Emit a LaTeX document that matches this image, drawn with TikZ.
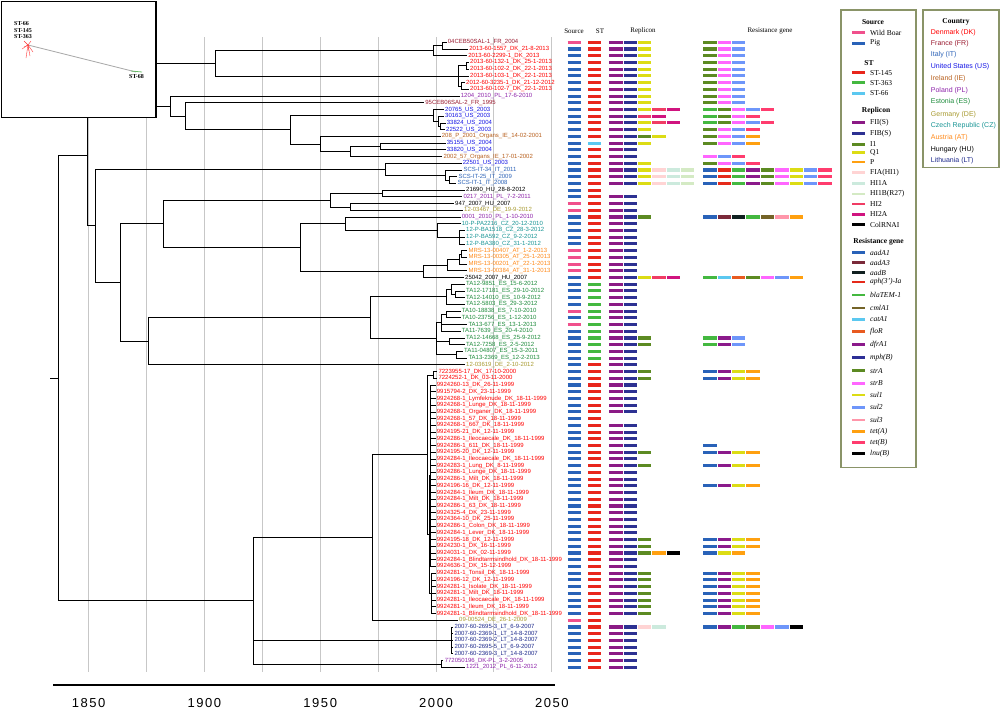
\documentclass[tikz,border=0pt]{standalone}
\usepackage{fontspec}
\setmainfont{Liberation Serif}
\setsansfont{Liberation Sans}
\usetikzlibrary{calc}
% country colours
\definecolor{cDK}{HTML}{FF0000}\definecolor{cFR}{HTML}{9B1C31}\definecolor{cIT}{HTML}{2E64B8}
\definecolor{cUS}{HTML}{1414E6}\definecolor{cIE}{HTML}{B8601E}\definecolor{cPL}{HTML}{8E24AA}
\definecolor{cES}{HTML}{1E8C3C}\definecolor{cDE}{HTML}{A89A30}\definecolor{cCZ}{HTML}{1A9696}
\definecolor{cAT}{HTML}{FF8A1A}\definecolor{cHU}{HTML}{000000}\definecolor{cLT}{HTML}{1E2A8C}
% source / ST
\definecolor{sW}{HTML}{F0508C}\definecolor{sP}{HTML}{2962B8}
\definecolor{s145}{HTML}{E8261C}\definecolor{s363}{HTML}{44B840}\definecolor{s66}{HTML}{5BC8F0}
% replicons
\definecolor{rFII}{HTML}{8B1A85}\definecolor{rFIB}{HTML}{2D3192}\definecolor{rI1}{HTML}{5C8A22}
\definecolor{rQ1}{HTML}{DCDC14}\definecolor{rP}{HTML}{FFA010}\definecolor{rFIA}{HTML}{FFD4D4}
\definecolor{rHIA}{HTML}{CCEADD}\definecolor{rHIB}{HTML}{D4EAC4}\definecolor{rHI2}{HTML}{F03C64}
\definecolor{rHI2A}{HTML}{D0147F}\definecolor{rCol}{HTML}{000000}
% resistance genes
\definecolor{gAa}{HTML}{2962B8}\definecolor{gAc}{HTML}{7B2A3A}\definecolor{gB}{HTML}{102020}
\definecolor{gaph}{HTML}{E52A1A}\definecolor{gbla}{HTML}{44B840}\definecolor{gcml}{HTML}{746428}
\definecolor{gcat}{HTML}{5BC8F0}\definecolor{gflo}{HTML}{E85A20}\definecolor{gdfr}{HTML}{8B1A8B}
\definecolor{gmph}{HTML}{2D2F96}\definecolor{gsA}{HTML}{5C8A22}\definecolor{gsB}{HTML}{FF66FF}
\definecolor{gsa}{HTML}{DCDC14}\definecolor{gsb}{HTML}{6E96FA}\definecolor{gsc}{HTML}{FF96AA}
\definecolor{gtA}{HTML}{FFA010}\definecolor{gtB}{HTML}{FF3C6E}\definecolor{glnu}{HTML}{000000}
\definecolor{legbox}{HTML}{8A9468}
% helpers
\newcommand\tip[5]{\coordinate (#1) at (#2,{42.3+6.72*#3});\node[lab,text=#4] (L#1) at (#1) {#5};}
\newcommand\nd[4]{\path let \p1=(#3), \p2=(#4) in coordinate (#1) at ({#2pt},{0.5*\y1+0.5*\y2});\draw[tr] (#1) |- (#3);\draw[tr] (#1) |- (#4);}
\newcommand\ndm[5]{\nd{#1}{#2}{#3}{#4}\foreach \c in {#5}{\draw[tr] (#1) |- (\c);}}
\newcommand\hb[3]{\draw[hbar,color=#3] ({#1},{42.3+6.72*#2}) -- ++(13.4,0);}
\newcommand\hm[5]{\hb{567.5}{#1}{#2}\hb{588}{#1}{#3}%
  \foreach \c [count=\k from 0] in {#4} {\hb{609.3+14.3*\k}{#1}{\c}}%
  \foreach \c [count=\k from 0] in {#5} {\hb{703.3+14.37*\k}{#1}{\c}}}
\newcommand\lgl[3]{\draw[lgline,color=#2] (852,#1) -- (865,#1);\node[legt] at (870,#1) {#3};}
\begin{document}
\begin{tikzpicture}[x=1pt,y=-1pt,
  tr/.style={line width=0.8pt},
  lab/.style={font=\sffamily\fontsize{6}{7}\selectfont,inner sep=0pt,anchor=west,xshift=1.2pt},
  hbar/.style={line width=3.1pt},
  lgline/.style={line width=2.6pt},
  legt/.style={font=\fontsize{7.5}{8}\selectfont,anchor=west,inner sep=0pt},
  legh/.style={font=\bfseries\fontsize{7.5}{8}\selectfont,inner sep=0pt},
  ctry/.style={font=\sffamily\fontsize{7}{8}\selectfont,anchor=west,inner sep=0pt},
  grid/.style={line width=0.9pt,color=black!22},
  hdr/.style={font=\fontsize{7}{8}\selectfont,inner sep=0pt},
  axl/.style={font=\sffamily\fontsize{13}{13}\selectfont\addfontfeature{LetterSpace=12},inner sep=0pt}]
\useasboundingbox (0,0) rectangle (1000,712);
\fill[white] (0,0) rectangle (1000,712);
% grid lines
\foreach \g in {0,...,8} {\draw[grid] ({88.6+57.9*\g},37) -- ({88.6+57.9*\g},672);}
% axis
\draw[line width=1.3pt] (53,685) -- (555,685);
\foreach \yr/\g in {1850/0,1900/2,1950/4,2000/6,2050/8} {\node[axl] at ({88.6+57.9*\g},703) {\yr};}
% ---------- tips ----------
\tip{t0}{446.5}{0}{cFR}{04CEB50SAL-1\_FR\_2004}
\tip{t1}{468}{1}{cDK}{2013-60-1557\_DK\_21-8-2013}
\tip{t2}{467}{2}{cDK}{2013-60-2299-1\_DK\_2013}
\tip{t3}{468.8}{3}{cDK}{2013-60-132-1\_DK\_25-1-2013}
\tip{t4}{468.8}{4}{cDK}{2013-60-102-2\_DK\_22-1-2013}
\tip{t5}{468.8}{5}{cDK}{2013-60-103-1\_DK\_22-1-2013}
\tip{t6}{464.8}{6}{cDK}{2012-60-3235-1\_DK\_21-12-2012}
\tip{t7}{468.8}{7}{cDK}{2013-60-102-7\_DK\_22-1-2013}
\tip{t8}{459.5}{8}{cPL}{1204\_2010\_PL\_17-6-2010}
\tip{t9}{424}{9}{cFR}{95CEB06SAL-2\_FR\_1995}
\tip{t10}{443.8}{10}{cUS}{20765\_US\_2003}
\tip{t11}{443.8}{11}{cUS}{30163\_US\_2003}
\tip{t12}{445.5}{12}{cUS}{33824\_US\_2004}
\tip{t13}{444.8}{13}{cUS}{22522\_US\_2003}
\tip{t14}{440.5}{14}{cIE}{208\_P\_2001\_Organs\_IE\_14-02-2001}
\tip{t15}{445.5}{15}{cUS}{35155\_US\_2004}
\tip{t16}{445.5}{16}{cUS}{33820\_US\_2004}
\tip{t17}{442.1}{17}{cIE}{2002\_57\_Organs\_IE\_17-01-2002}
\tip{t18}{461.5}{18}{cUS}{22501\_US\_2003}
\tip{t19}{462.1}{19}{cIT}{SCS-IT-34\_IT\_2011}
\tip{t20}{457.1}{20}{cIT}{SCS-IT-25\_IT\_2009}
\tip{t21}{456.1}{21}{cIT}{SCS-IT-1\_IT\_2008}
\tip{t22}{464.8}{22}{cHU}{21690\_HU\_28-8-2012}
\tip{t23}{462.1}{23}{cPL}{0217\_2011\_PL\_7-2-2011}
\tip{t24}{453.8}{24}{cHU}{947\_2007\_HU\_2007}
\tip{t25}{462.8}{25}{cDE}{12-03467\_DE\_19-9-2012}
\tip{t26}{460.5}{26}{cPL}{0001\_2010\_PL\_1-10-2010}
\tip{t27}{460.5}{27}{cCZ}{10-P-PA2216\_CZ\_20-12-2010}
\tip{t28}{464.8}{28}{cCZ}{12-P-BA1518\_CZ\_28-3-2012}
\tip{t29}{464.8}{29}{cCZ}{12-P-BA592\_CZ\_9-2-2012}
\tip{t30}{464.8}{30}{cCZ}{12-P-BA380\_CZ\_31-1-2012}
\tip{t31}{467.1}{31}{cAT}{MRS-13-00407\_AT\_1-2-2013}
\tip{t32}{467.1}{32}{cAT}{MRS-13-00305\_AT\_25-1-2013}
\tip{t33}{467.1}{33}{cAT}{MRS-13-00201\_AT\_22-1-2013}
\tip{t34}{467.1}{34}{cAT}{MRS-13-00384\_AT\_31-1-2013}
\tip{t35}{463.8}{35}{cHU}{25042\_2007\_HU\_2007}
\tip{t36}{464.8}{36}{cES}{TA12-9851\_ES\_15-6-2012}
\tip{t37}{464.8}{37}{cES}{TA12-17181\_ES\_29-10-2012}
\tip{t38}{464.8}{38}{cES}{TA12-14010\_ES\_10-9-2012}
\tip{t39}{464.8}{39}{cES}{TA12-5803\_ES\_29-3-2012}
\tip{t40}{460.5}{40}{cES}{TA10-18838\_ES\_7-10-2010}
\tip{t41}{460.5}{41}{cES}{TA10-23756\_ES\_1-12-2010}
\tip{t42}{467.1}{42}{cES}{TA13-677\_ES\_13-1-2013}
\tip{t43}{460.5}{43}{cES}{TA11-7639\_ES\_20-4-2010}
\tip{t44}{464.8}{44}{cES}{TA12-14668\_ES\_25-9-2012}
\tip{t45}{464.8}{45}{cES}{TA12-7258\_ES\_2-5-2012}
\tip{t46}{462.8}{46}{cES}{TA11-04807\_ES\_15-3-2011}
\tip{t47}{467.1}{47}{cES}{TA13-2369\_ES\_12-2-2013}
\tip{t48}{464.8}{48}{cDE}{12-03619\_DE\_2-10-2012}
\tip{t49}{437.1}{49}{cDK}{7223955-17\_DK\_17-10-2000}
\tip{t50}{437.1}{50}{cDK}{7224252-1\_DK\_03-11-2000}
\tip{t51}{435.5}{51}{cDK}{9924260-13\_DK\_26-11-1999}
\tip{t52}{435.5}{52}{cDK}{9915794-2\_DK\_23-11-1999}
\tip{t53}{435.5}{53}{cDK}{9924268-1\_Lymfeknude\_DK\_18-11-1999}
\tip{t54}{435.5}{54}{cDK}{9924268-1\_Lunge\_DK\_18-11-1999}
\tip{t55}{435.5}{55}{cDK}{9924268-1\_Organer\_DK\_18-11-1999}
\tip{t56}{435.5}{56}{cDK}{9924268-1\_57\_DK\_18-11-1999}
\tip{t57}{435.5}{57}{cDK}{9924268-1\_667\_DK\_18-11-1999}
\tip{t58}{435.5}{58}{cDK}{9924195-21\_DK\_12-11-1999}
\tip{t59}{435.5}{59}{cDK}{9924286-1\_Ileocaecale\_DK\_18-11-1999}
\tip{t60}{435.5}{60}{cDK}{9924286-1\_611\_DK\_18-11-1999}
\tip{t61}{435.5}{61}{cDK}{9924195-20\_DK\_12-11-1999}
\tip{t62}{435.5}{62}{cDK}{9924284-1\_Ileocaecale\_DK\_18-11-1999}
\tip{t63}{435.5}{63}{cDK}{9924283-1\_Lung\_DK\_8-11-1999}
\tip{t64}{435.5}{64}{cDK}{9924286-1\_Lunge\_DK\_18-11-1999}
\tip{t65}{435.5}{65}{cDK}{9924286-1\_Milt\_DK\_18-11-1999}
\tip{t66}{435.5}{66}{cDK}{9924196-16\_DK\_12-11-1999}
\tip{t67}{435.5}{67}{cDK}{9924284-1\_Ileum\_DK\_18-11-1999}
\tip{t68}{435.5}{68}{cDK}{9924284-1\_Milt\_DK\_18-11-1999}
\tip{t69}{435.5}{69}{cDK}{9924286-1\_63\_DK\_18-11-1999}
\tip{t70}{435.5}{70}{cDK}{9924325-4\_DK\_23-11-1999}
\tip{t71}{435.5}{71}{cDK}{9924364-10\_DK\_25-11-1999}
\tip{t72}{435.5}{72}{cDK}{9924286-1\_Colon\_DK\_18-11-1999}
\tip{t73}{435.5}{73}{cDK}{9924284-1\_Lever\_DK\_18-11-1999}
\tip{t74}{435.5}{74}{cDK}{9924195-18\_DK\_12-11-1999}
\tip{t75}{435.5}{75}{cDK}{9924230-1\_DK\_16-11-1999}
\tip{t76}{435.5}{76}{cDK}{9924031-1\_DK\_02-11-1999}
\tip{t77}{435.5}{77}{cDK}{9924284-1\_Blindtarmsindhold\_DK\_18-11-1999}
\tip{t78}{435.5}{78}{cDK}{9924636-1\_DK\_15-12-1999}
\tip{t79}{435.5}{79}{cDK}{9924281-1\_Tonsil\_DK\_18-11-1999}
\tip{t80}{435.5}{80}{cDK}{9924196-12\_DK\_12-11-1999}
\tip{t81}{435.5}{81}{cDK}{9924281-1\_Isolate\_DK\_18-11-1999}
\tip{t82}{435.5}{82}{cDK}{9924281-1\_Milt\_DK\_18-11-1999}
\tip{t83}{435.5}{83}{cDK}{9924281-1\_Ileocaecale\_DK\_18-11-1999}
\tip{t84}{435.5}{84}{cDK}{9924281-1\_Ileum\_DK\_18-11-1999}
\tip{t85}{435.5}{85}{cDK}{9924281-1\_Blindtarmsindhold\_DK\_18-11-1999}
\tip{t86}{457.8}{86}{cDE}{09-00524\_DE\_26-1-2009}
\tip{t87}{453.1}{87}{cLT}{2007-60-2695-3\_LT\_6-9-2007}
\tip{t88}{453.1}{88}{cLT}{2007-60-2369-1\_LT\_14-8-2007}
\tip{t89}{453.1}{89}{cLT}{2007-60-2369-2\_LT\_14-8-2007}
\tip{t90}{453.1}{90}{cLT}{2007-60-2695-5\_LT\_6-9-2007}
\tip{t91}{453.1}{91}{cLT}{2007-60-2369-3\_LT\_14-8-2007}
\tip{t92}{443.4}{92}{cPL}{772050196\_DK-PL\_3-2-2005}
\tip{t93}{464.8}{93}{cPL}{1221\_2012\_PL\_6-11-2012}
% ---------- internal nodes: upper group ----------
\nd{a1}{442}{t0}{t1}
\nd{a2}{433}{a1}{t2}
\nd{b1}{466}{t3}{t4}
\nd{b2}{461}{t6}{t7}
\ndm{b3}{458.7}{b1}{b2}{t5}
\nd{A1}{215}{a2}{b3}
\nd{c1}{440}{t12}{t13}
\nd{c2}{438}{t11}{c1}
\nd{c3}{433}{t10}{c2}
\nd{A8}{380}{t15}{t16}
\nd{A7}{350}{A8}{t17}
\nd{A6}{320}{t14}{A7}
\nd{A5}{290}{c3}{A6}
\nd{A4}{185}{t9}{A5}
\nd{A2}{170}{t8}{A4}
\nd{A}{140}{A1}{A2}
\nd{d1}{449}{t20}{t21}
\nd{d2}{445}{t19}{d1}
\nd{d3}{385}{t18}{d2}
\nd{e1}{382}{t22}{t23}
\nd{C1b}{350}{t24}{t25}
\nd{C1}{330}{e1}{C1b}
\ndm{f2}{459}{t28}{t30}{t29}
\nd{f1}{437}{t27}{f2}
\nd{C2a}{345}{t26}{f1}
\nd{g1}{461}{t31}{t32}
\nd{g2}{459}{g1}{t33}
\nd{g3}{447}{g2}{t34}
\nd{g4}{423}{g3}{t35}
\nd{C2}{300}{C2a}{g4}
\nd{B21}{163}{C1}{C2}
\nd{h1}{455}{t37}{t38}
\nd{h2}{451.7}{t36}{h1}
\nd{h3}{446.7}{h2}{t39}
\nd{i1}{446}{t40}{t41}
\ndm{i2}{441.7}{i1}{t43}{t42}
\nd{i3}{449}{t44}{t45}
\nd{i5}{456}{t46}{t47}
\ndm{i4}{436.7}{i2}{i5}{i3}
\nd{h4}{370}{h3}{i4}
\nd{h5}{148}{h4}{t48}
\nd{B2}{120}{B21}{h5}
\nd{B}{95}{d3}{B2}
\nd{u}{87}{A}{B}
% ---------- internal nodes: lower group ----------
\nd{k1}{433}{t49}{t50}
\nd{k2}{430.5}{t51}{t78}\foreach \n in {52,...,77}{\draw[tr] (k2) |- (t\n);}
\nd{k3}{431.5}{t79}{t85}\foreach \n in {80,...,84}{\draw[tr] (k3) |- (t\n);}
\nd{k4}{429}{k2}{k3}
\nd{k5}{427}{k1}{k4}
\nd{k6}{372.5}{k5}{t86}
\nd{lt}{451.8}{t87}{t91}\foreach \n in {88,89,90}{\draw[tr] (lt) |- (t\n);}
\nd{pl}{441.8}{t92}{t93}
\ndm{m1}{253}{k6}{pl}{lt}
\nd{root}{58}{u}{m1}
\coordinate (stub) at ($(root)+(-8,0)$);
\draw[tr] (stub) -- (root);
% ---------- heat map ----------
\node[hdr] at (574,31) {Source};
\node[hdr] at (600,31) {ST};
\node[hdr] at (643,31) {Replicon};
\node[hdr] at (770,31) {Resistance gene};
\hm{0}{sW}{s145}{rFII,rFIB,rQ1}{gsA,gsB,gsb}
\foreach \r in {1,...,9}{\hm{\r}{sP}{s145}{rFII,rFIB,rQ1}{gsA,gsB,gsb}}
\hm{10}{sP}{s145}{rFII,rFIB,rQ1,rHI2,rHI2A}{gbla,gsA,gsB,gsb,gtB}
\hm{11}{sP}{s145}{rFII,rFIB,rHI2,rHI2A}{gbla,gsA,gsB,gtB}
\hm{12}{sP}{s145}{rFII,rFIB,rQ1,rHI2,rHI2A}{gbla,gsA,gsB,gsb,gtB}
\hm{13}{sP}{s145}{rFII,rFIB,rQ1}{gsA,gsB,gsb,gtB}
\hm{14}{sP}{s145}{rFII,rFIB,rI1,rQ1}{gsA,gsB,gsb,gtA}
\hm{15}{sP}{s66}{rFII,rFIB,rQ1}{gsA,gsB,gsb,gtA}
\hm{16}{sP}{s145}{rFII,rFIB}{white}
\hm{17}{sP}{s145}{rFII,rFIB}{gsB,gsb,gtB}
\hm{18}{sP}{s145}{rFII,rFIB,rQ1}{gsA,gsB,gsb,gtB}
\foreach \r in {19,20,21}{\hm{\r}{sP}{s145}{rFII,rFIB,rQ1,rFIA,rHIA,rHIB}{gAa,gaph,gbla,gdfr,gsA,gsB,gsa,gsb,gtB}}
\hm{22}{sP}{s145}{white}{white}
\hm{23}{sP}{s145}{rFII,rFIB}{white}
\hm{24}{sW}{s145}{rFII,rFIB}{white}
\hm{25}{sW}{s145}{rFII,rFIB}{white}
\hm{26}{sP}{s145}{rFII,rFIB,rI1}{gAa,gAc,gB,gbla,gcml,gsc,gtA}
\foreach \r in {27,...,30}{\hm{\r}{sP}{s145}{rFII,rFIB}{white}}
\foreach \r in {31,...,34}{\hm{\r}{sW}{s145}{rFII,rFIB}{white}}
\hm{35}{sP}{s145}{rFII,rFIB,rQ1,rHI2,rHI2A}{gbla,gcat,gflo,gsA,gsB,gsb,gtA}
\foreach \r in {36,...,39}{\hm{\r}{sP}{s363}{rFII,rFIB}{white}}
\hm{40}{sW}{s363}{rFII,rFIB}{white}
\hm{41}{sP}{s363}{rFII,rFIB}{white}
\hm{42}{sW}{s363}{rFII,rFIB}{white}
\hm{43}{sP}{s363}{rFII,rFIB}{white}
\hm{44}{sP}{s363}{rFII,rFIB,rI1}{gbla,gdfr,gsb}
\hm{45}{sP}{s363}{rFII,rFIB,rI1}{gbla,gdfr,gsb}
\hm{46}{sP}{s363}{rFII,rFIB}{white}
\hm{47}{sP}{s363}{rFII,rFIB}{white}
\hm{48}{sP}{s145}{rFII,rFIB}{white}
\hm{49}{sP}{s145}{rFII,rFIB,rI1}{gAa,gdfr,gsa,gtA}
\hm{50}{sP}{s145}{rFII,rFIB,rI1}{gAa,gdfr,gsa,gtA}
\foreach \r in {51,...,55}{\hm{\r}{sP}{s145}{rFII,rFIB}{white}}
\hm{56}{sP}{s145}{white}{white}
\foreach \r in {57,58,59}{\hm{\r}{sP}{s145}{rFII,rFIB}{white}}
\hm{60}{sP}{s145}{rFII,rFIB}{gAa}
\hm{61}{sP}{s145}{rFII,rFIB,rI1}{gAa,gdfr,gsa,gtA}
\hm{62}{sP}{s145}{rFII,rFIB}{white}
\hm{63}{sP}{s145}{rFII,rFIB,rI1}{gAa,gdfr,gsa,gtA}
\hm{64}{sP}{s145}{rFII,rFIB}{white}
\hm{65}{sP}{s145}{rFII,rFIB}{white}
\hm{66}{sP}{s145}{rFII,rFIB}{gAa,gdfr,gsa,gtA}
\foreach \r in {67,...,73}{\hm{\r}{sP}{s145}{rFII,rFIB}{white}}
\hm{74}{sP}{s145}{rFII,rFIB,rI1}{gAa,gdfr,gsa,gtA}
\hm{75}{sP}{s145}{rFII,rFIB,rI1}{gAa,gdfr,gsa,gtA}
\hm{76}{sP}{s145}{rFII,rFIB,rI1,rP,rCol}{gAa,gsa,gtA}
\hm{77}{sP}{s145}{rFII,rFIB}{white}
\hm{78}{sP}{s145}{rFII,rFIB}{white}
\foreach \r in {79,...,85}{\hm{\r}{sP}{s145}{rFII,rFIB,rI1}{gAa,gdfr,gsa,gtA}}
\hm{86}{sW}{s145}{white}{white}
\hm{87}{sP}{s145}{rFII,rFIB,rFIA,rHIA}{gAa,gdfr,gbla,gsA,gsB,gsb,glnu}
\foreach \r in {88,...,93}{\hm{\r}{sP}{s145}{rFII,rFIB}{white}}
% ---------- legend 1 ----------
\draw[legbox,line width=1.4pt] (841,10) rectangle (916,467.7);
\node[legh] at (873,22) {Source};
\lgl{32.7}{sW}{Wild Boar}
\lgl{43.3}{sP}{Pig}
\node[legh] at (869,63.3) {ST};
\lgl{72.7}{s145}{ST-145}
\lgl{82.7}{s363}{ST-363}
\lgl{93.3}{s66}{ST-66}
\node[legh] at (876,110.7) {Replicon};
\lgl{122.3}{rFII}{FII(S)}
\lgl{133.3}{rFIB}{FIB(S)}
\lgl{144.3}{rI1}{I1}
\lgl{152.7}{rQ1}{Q1}
\lgl{162}{rP}{P}
\lgl{172.3}{rFIA}{FIA(HI1)}
\lgl{183.3}{rHIA}{HI1A}
\lgl{194}{rHIB}{HI1B(R27)}
\lgl{204}{rHI2}{HI2}
\lgl{214.3}{rHI2A}{HI2A}
\lgl{224.7}{rCol}{ColRNAI}
\node[legh] at (878.5,242.2) {Resistance gene};
\lgl{252.7}{gAa}{\textit{aadA1}}
\lgl{262.7}{gAc}{\textit{aadA3}}
\lgl{272.7}{gB}{\textit{aadB}}
\lgl{282}{gaph}{\textit{aph(3')-Ia}}
\lgl{295}{gbla}{\textit{blaTEM-1}}
\lgl{308}{gcml}{\textit{cmlA1}}
\lgl{319.3}{gcat}{\textit{catA1}}
\lgl{331.3}{gflo}{\textit{floR}}
\lgl{344.7}{gdfr}{\textit{dfrA1}}
\lgl{357.7}{gmph}{\textit{mph(B)}}
\lgl{370.7}{gsA}{\textit{strA}}
\lgl{383.3}{gsB}{\textit{strB}}
\lgl{395}{gsa}{\textit{sul1}}
\lgl{407.3}{gsb}{\textit{sul2}}
\lgl{420}{gsc}{\textit{sul3}}
\lgl{431.7}{gtA}{\textit{tet(A)}}
\lgl{442.7}{gtB}{\textit{tet(B)}}
\lgl{453.7}{glnu}{\textit{lnu(B)}}
% ---------- legend 2 ----------
\draw[legbox,line width=1.4pt] (923,10) rectangle (999,167.7);
\node[legh] at (956,22) {Country};
\foreach \yy/\cc/\tt in {32.3/cDK/Denmark (DK),43.3/cFR/France (FR),55/cIT/Italy (IT),67/cUS/United States (US),79/cIE/Ireland (IE),90.3/cPL/Poland (PL),102/cES/Estonia (ES),114.3/cDE/Germany (DE),126/cCZ/Czech Republic (CZ),137.3/cAT/Austria (AT),149.3/cHU/Hungary (HU),161/cLT/Lithuania (LT)}
  {\node[ctry,text=\cc] at (930.7,\yy) {\tt};}
% ---------- inset ----------
\fill[white] (1.5,1.5) rectangle (156,117.5);
\draw[line width=1.3pt] (1.5,1.5) rectangle (156,117.5);
\node[font=\bfseries\fontsize{6}{6}\selectfont,inner sep=0pt,anchor=west] at (14,24) {ST-66};
\node[font=\bfseries\fontsize{6}{6}\selectfont,inner sep=0pt,anchor=west] at (14,30.3) {ST-145};
\node[font=\bfseries\fontsize{6}{6}\selectfont,inner sep=0pt,anchor=west] at (14,36.7) {ST-363};
\node[font=\bfseries\fontsize{6}{6}\selectfont,inner sep=0pt,anchor=west] at (129,77) {ST-68};
\draw[black!35,line width=0.8pt] (28,45) -- (136,72);
\draw[green!55!black!60,line width=0.8pt] (131,71) -- (142,72);
\foreach \dx/\dy in {-4/-4,3/-4,-6/4,2/11,-2/13,5/7,-4/2,1/6}{\draw[red!80,line width=0.4pt] (28,45) -- ++(\dx,\dy);}
\end{tikzpicture}
\end{document}
